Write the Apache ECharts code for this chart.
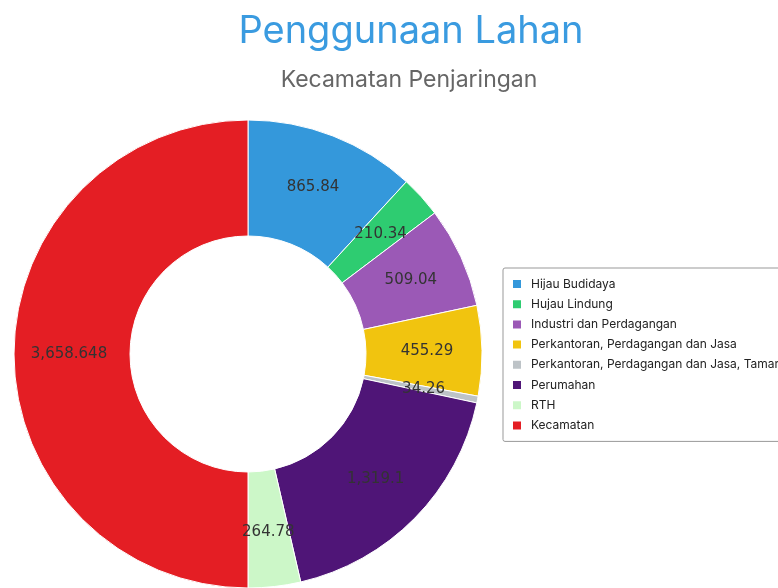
<!DOCTYPE html>
<html>
<head>
<meta charset="utf-8">
<script src="https://cdn.jsdelivr.net/npm/echarts@6/dist/echarts.min.js"></script>
<style>
  html, body { margin: 0; padding: 0; background: #fff; }
  #chart { width: 778px; height: 588px; }
</style>
</head>
<body>
<div id="chart"></div>
<script>
const categories = [
  "Hijau Budidaya",
  "Hujau Lindung",
  "Industri dan Perdagangan",
  "Perkantoran, Perdagangan dan Jasa",
  "Perkantoran, Perdagangan dan Jasa, Taman",
  "Perumahan",
  "RTH",
  "Kecamatan"
]
const values = [865.84, 210.34, 509.04, 455.29, 34.26, 1319.1, 264.78, 3658.648]
const colors = ["#3498db", "#2ecc71", "#9b59b6", "#f1c40f", "#bdc3c7", "#4f1577", "#ccf7c8", "#e41e24"]

const chart = echarts.init(document.getElementById("chart"))

const fmt = (v) => v.toLocaleString("en-US", { maximumFractionDigits: 3 })

const option = {
  textStyle: { fontFamily: "Inter" },
  title: [
    {
      text: "Penggunaan Lahan",
      left: 406,
      top: 8,
      textAlign: "center",
      textStyle: { color: "#3a9be0", fontSize: 38, fontWeight: "normal", fontFamily: "Inter" }
    },
    {
      text: "Kecamatan Penjaringan",
      left: 404,
      top: 64,
      textAlign: "center",
      textStyle: { color: "#666", fontSize: 23, fontWeight: "normal", fontFamily: "Inter" }
    }
  ],
  legend: {
    orient: "vertical",
    left: 503,
    top: 268,
    padding: [10, 8, 10, 8],
    borderColor: "#999",
    borderWidth: 1,
    borderRadius: 2,
    itemWidth: 10,
    itemHeight: 10,
    itemGap: 8.2,
    icon: "rect",
    textStyle: { fontSize: 12, color: "#222", fontFamily: "Inter", padding: [0, 0, 0, 4] },
    data: categories
  },
  series: [
    {
      type: "pie",
      center: [248, 354],
      radius: [118, 234],
      startAngle: 90,
      clockwise: true,
      avoidLabelOverlap: false,
      itemStyle: { borderColor: "#fff", borderWidth: 1 },
      label: {
        position: "inside",
        color: "#333",
        fontSize: 15,
        fontFamily: "DejaVu Sans",
        formatter: (p) => fmt(p.value)
      },
      labelLine: { show: false },
      emphasis: { disabled: true },
      data: categories.map((name, i) => ({
        name,
        value: values[i],
        itemStyle: { color: colors[i] }
      }))
    }
  ]
}

chart.setOption(option)
</script>
</body>
</html>
